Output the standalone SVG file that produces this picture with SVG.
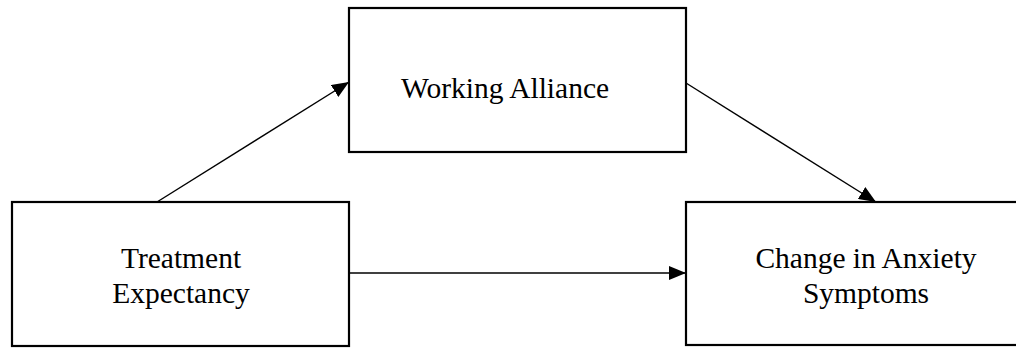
<svg xmlns="http://www.w3.org/2000/svg" width="1016" height="349" viewBox="0 0 1016 349">
<style>
.box{fill:#fff;stroke:#000;stroke-width:2.2}
.lbl{font-family:"Liberation Serif","Times New Roman",serif;font-size:29.5px;fill:#000;text-anchor:middle}
.edge{stroke:#000;stroke-width:1.4;fill:none}
</style>
<defs>
<marker id="ah" viewBox="0 0 17 14" refX="17" refY="7" markerWidth="17" markerHeight="14" markerUnits="userSpaceOnUse" orient="auto">
<path d="M0,0 L17,7 L0,14 Z" fill="#000"/>
</marker>
</defs>
<g id="node-working-alliance">
<rect class="box" x="349" y="8" width="337" height="144"/>
<text class="lbl" x="505" y="98">Working Alliance</text>
</g>
<g id="node-treatment-expectancy">
<rect class="box" x="12" y="202" width="337" height="144"/>
<text class="lbl" x="181" y="268">Treatment</text>
<text class="lbl" x="181" y="303">Expectancy</text>
</g>
<g id="node-change-anxiety">
<rect class="box" x="686" y="202" width="360" height="143"/>
<text class="lbl" x="866" y="268">Change in Anxiety</text>
<text class="lbl" x="866" y="303">Symptoms</text>
</g>
<g id="connectors">
<line class="edge" x1="157" y1="202" x2="349" y2="82" marker-end="url(#ah)"/>
<line class="edge" x1="686" y1="83" x2="876" y2="202" marker-end="url(#ah)"/>
<line class="edge" x1="349" y1="273" x2="686" y2="273" marker-end="url(#ah)"/>
</g>
</svg>
